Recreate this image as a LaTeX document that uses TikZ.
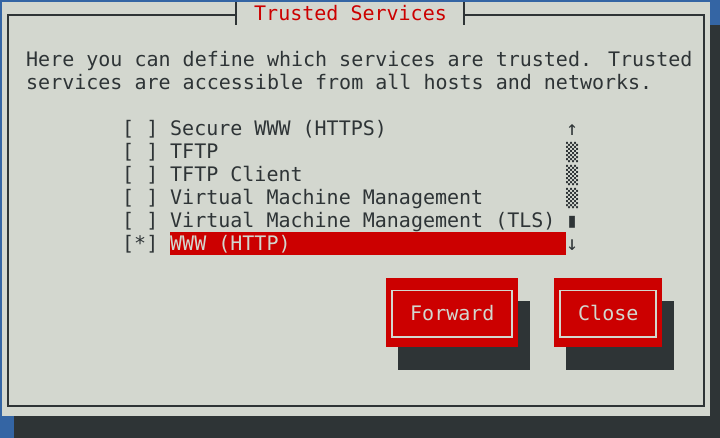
\documentclass[tikz,border=0pt]{standalone}
\usepackage{fontspec}
\newfontfamily\termfont{DejaVu Sans Mono}
\definecolor{deskblue}{HTML}{3465A4}
\definecolor{winbg}{HTML}{D3D7CF}
\definecolor{termdark}{HTML}{2E3436}
\definecolor{tred}{HTML}{CC0000}
\begin{document}
\begin{tikzpicture}[x=1pt,y=-1pt,
  txt/.style={anchor=base west,inner sep=0pt,text=termdark,
    font=\termfont\fontsize{20}{23}\selectfont},
  frame/.style={draw=termdark,line width=1.6pt},
  btnframe/.style={draw=winbg,line width=1.2pt}]

\useasboundingbox (0,0) rectangle (720,438);
% screen and dialog
\fill [deskblue] (0,0) rectangle (720,438);
\fill [termdark] (710,25) rectangle (720,438);
\fill [termdark] (14,416) rectangle (720,438);
\fill [winbg] (2,2) rectangle (710,416);
\draw [frame] (236,15) -- (8,15) -- (8,406) -- (704,406) -- (704,15) -- (464,15);
\draw [frame] (236,2) -- (236,25);
\draw [frame] (464,2) -- (464,25);
\node (title) at (254,21) [txt,text=tred] {Trusted Services};

\node (intro1) at (26,67) [txt] {Here you can define which services are trusted. Trusted};
\node (intro2) at (26,90) [txt] {services are accessible from all hosts and networks.};

% list
\fill [tred] (170,232) rectangle (566,255);
\node (box1) at (122,136) [txt] {[ ]};
\node (box2) at (122,159) [txt] {[ ]};
\node (box3) at (122,182) [txt] {[ ]};
\node (box4) at (122,205) [txt] {[ ]};
\node (box5) at (122,228) [txt] {[ ]};
\node (box6) at (122,251) [txt] {[*]};
\node (https) at (170,136) [txt] {Secure WWW (HTTPS)};
\node (tftp) at (170,159) [txt] {TFTP};
\node (tftpc) at (170,182) [txt] {TFTP Client};
\node (vmm) at (170,205) [txt] {Virtual Machine Management};
\node (vmmtls) at (170,228) [txt] {Virtual Machine Management (TLS)};
\node (http) at (170,251) [txt,text=winbg] {WWW (HTTP)};

% scrollbar
\node (up) at (566,136) [txt] {↑};
\node (bar1) at (566,159) [txt,yscale=0.87] {▒};
\node (bar2) at (566,182) [txt,yscale=0.87] {▒};
\node (bar3) at (566,205) [txt,yscale=0.87] {▒};
\node (thumb) at (566,228) [txt] {▮};
\node (down) at (566,251) [txt] {↓};

% buttons
\fill [termdark] (398,301) rectangle (530,370);
\fill [tred] (386,278) rectangle (518,347);
\draw [btnframe] (392,290.5) rectangle (512,337);
\node (fwd) at (410,320) [txt,text=winbg] {Forward};
\fill [termdark] (566,301) rectangle (674,370);
\fill [tred] (554,278) rectangle (662,347);
\draw [btnframe] (560,290.5) rectangle (656,337);
\node (close) at (578,320) [txt,text=winbg] {Close};
\end{tikzpicture}
\end{document}
